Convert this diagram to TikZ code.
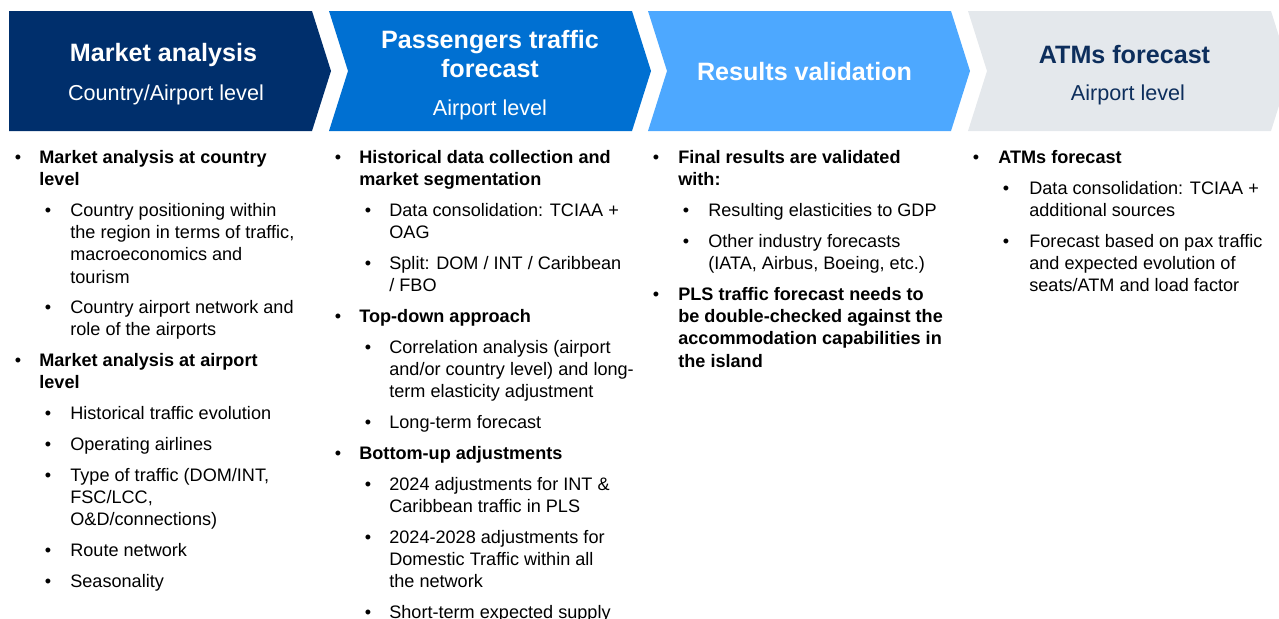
\documentclass[tikz,border=0pt]{standalone}
\usepackage{fontspec}
\setmainfont{Liberation Sans}
\usetikzlibrary{positioning}
\definecolor{chevnavy}{HTML}{002F6C}
\definecolor{chevblue}{HTML}{0070D2}
\definecolor{chevsky}{HTML}{4DA8FF}
\definecolor{chevgrey}{HTML}{E4E8EC}
\definecolor{darktitle}{HTML}{0D2E5C}
\newcommand{\bulletlines}[1]{\begin{tabular}[t]{@{}l@{}}#1\end{tabular}}
\tikzset{
  title/.style={anchor=center, inner sep=0pt, text=white, align=center,
    font=\fontsize{14.3}{17}\selectfont\bfseries},
  subtitle/.style={anchor=center, inner sep=0pt, text=white,
    font=\fontsize{12.3}{15}\selectfont},
  dot/.style={anchor=base, inner sep=0pt, font=\fontsize{10.3}{12.8}\selectfont},
  lvltwo/.style={anchor=base west, inner sep=0pt,
    font=\fontsize{10.3}{12.8}\selectfont},
  lvlone/.style={lvltwo, font=\fontsize{10.3}{12.8}\selectfont\bfseries}
}
\begin{document}
\begin{tikzpicture}[x=0.02cm, y=-0.02cm]
            \useasboundingbox (0,0) rectangle (1279,619);
            \clip (0,0) rectangle (1279,619);

            % chevrons
            \foreach \x/\d/\fillc in {9/0/chevnavy, 329/19/chevblue, 648/19/chevsky, 968/19/chevgrey}
                \fill[\fillc] (\x,11) -- ++(303,0) -- ++(19,60) -- ++(-19,60) -- ++(-303,0) -- ++(\d,-60) -- cycle;

            \node [title] (t1) at (167,55) { Market analysis };
            \node [subtitle] (s1) at (166,95) { Country/Airport level };
            \node [title] (t2) at (490,54) { Passengers traffic\\forecast };
            \node [subtitle] (s2) at (490,110) { Airport level };
            \node [title] (t3) at (808,72) { Results validation };
            \node [title, text=darktitle] (t4) at (1128,55) { ATMs forecast };
            \node [subtitle, text=darktitle] (s4) at (1128,95) { Airport level };

            % column 1
            \node [dot] (a1d) at (18,163) {•};
            \node [lvlone] (a1) at (39,163) {\bulletlines{Market analysis at country\\level}};
            \node [dot] (a2d) at (48,216) {•};
            \node [lvltwo] (a2) at (70,216) {\bulletlines{Country positioning within\\the region in terms of traffic,\\macroeconomics and\\tourism}};
            \node [dot] (a3d) at (48,313) {•};
            \node [lvltwo] (a3) at (70,313) {\bulletlines{Country airport network and\\role of the airports}};
            \node [dot] (a4d) at (18,366) {•};
            \node [lvlone] (a4) at (39,366) {\bulletlines{Market analysis at airport\\level}};
            \node [dot] (a5d) at (48,419) {•};
            \node [lvltwo] (a5) at (70,419) {Historical traffic evolution};
            \node [dot] (a6d) at (48,450) {•};
            \node [lvltwo] (a6) at (70,450) {Operating airlines};
            \node [dot] (a7d) at (48,481) {•};
            \node [lvltwo] (a7) at (70,481) {\bulletlines{Type of traffic (DOM/INT,\\FSC/LCC,\\O\&D/connections)}};
            \node [dot] (a8d) at (48,556) {•};
            \node [lvltwo] (a8) at (70,556) {Route network};
            \node [dot] (a9d) at (48,587) {•};
            \node [lvltwo] (a9) at (70,587) {Seasonality};

            % column 2
            \node [dot] (b1d) at (338,163) {•};
            \node [lvlone] (b1) at (359,163) {\bulletlines{Historical data collection and\\market segmentation}};
            \node [dot] (b2d) at (368,216) {•};
            \node [lvltwo] (b2) at (389,216) {\bulletlines{Data consolidation: TCIAA +\\OAG}};
            \node [dot] (b3d) at (368,269) {•};
            \node [lvltwo] (b3) at (389,269) {\bulletlines{Split: DOM / INT / Caribbean\\/ FBO}};
            \node [dot] (b4d) at (338,322) {•};
            \node [lvlone] (b4) at (359,322) {Top-down approach};
            \node [dot] (b5d) at (368,353) {•};
            \node [lvltwo] (b5) at (389,353) {\bulletlines{Correlation analysis (airport\\and/or country level) and long-\\term elasticity adjustment}};
            \node [dot] (b6d) at (368,428) {•};
            \node [lvltwo] (b6) at (389,428) {Long-term forecast};
            \node [dot] (b7d) at (338,459) {•};
            \node [lvlone] (b7) at (359,459) {Bottom-up adjustments};
            \node [dot] (b8d) at (368,490) {•};
            \node [lvltwo] (b8) at (389,490) {\bulletlines{2024 adjustments for INT \&\\Caribbean traffic in PLS}};
            \node [dot] (b9d) at (368,543) {•};
            \node [lvltwo] (b9) at (389,543) {\bulletlines{2024-2028 adjustments for\\Domestic Traffic within all\\the network}};
            \node [dot] (b10d) at (368,618) {•};
            \node [lvltwo] (b10) at (389,618) {Short-term expected supply};

            % column 3
            \node [dot] (c1d) at (656,163) {•};
            \node [lvlone] (c1) at (678,163) {\bulletlines{Final results are validated\\with:}};
            \node [dot] (c2d) at (686,216) {•};
            \node [lvltwo] (c2) at (708,216) {Resulting elasticities to GDP};
            \node [dot] (c3d) at (686,247) {•};
            \node [lvltwo] (c3) at (708,247) {\bulletlines{Other industry forecasts\\(IATA, Airbus, Boeing, etc.)}};
            \node [dot] (c4d) at (656,300) {•};
            \node [lvlone] (c4) at (678,300) {\bulletlines{PLS traffic forecast needs to\\be double-checked against the\\accommodation capabilities in\\the island}};

            % column 4
            \node [dot] (d1d) at (976,163) {•};
            \node [lvlone] (d1) at (998,163) {ATMs forecast};
            \node [dot] (d2d) at (1006,194) {•};
            \node [lvltwo] (d2) at (1029,194) {\bulletlines{Data consolidation: TCIAA +\\additional sources}};
            \node [dot] (d3d) at (1006,247) {•};
            \node [lvltwo] (d3) at (1029,247) {\bulletlines{Forecast based on pax traffic\\and expected evolution of\\seats/ATM and load factor}};

        \end{tikzpicture}
\end{document}
